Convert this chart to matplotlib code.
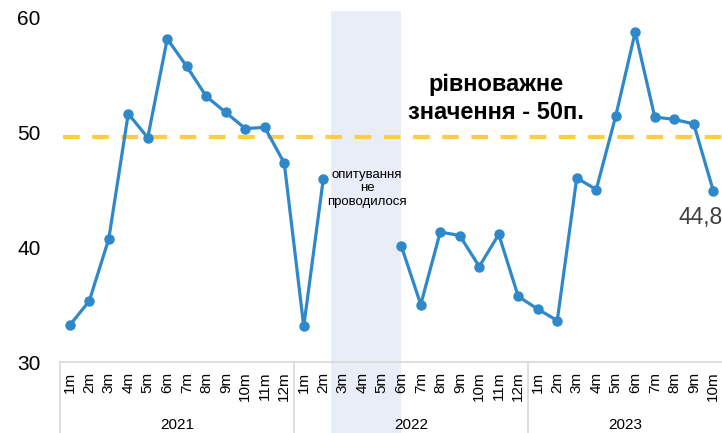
import matplotlib.pyplot as plt
from matplotlib.patches import Rectangle
from matplotlib.transforms import blended_transform_factory
import numpy as np

plt.rcParams['font.family'] = ['Liberation Sans', 'DejaVu Sans']

# --- data -------------------------------------------------------------
years = ["2021", "2022", "2023"]
months_per_year = [12, 12, 10]
month_labels = [f"{m}m" for n in months_per_year for m in range(1, n + 1)]

values = [
    33.2, 35.3, 40.7, 51.6, 49.5, 58.1, 55.7, 53.1, 51.7, 50.3, 50.4, 47.3,   # 2021
    33.1, 45.9, None, None, None, 40.1, 35.0, 41.3, 41.0, 38.3, 41.1, 35.7,   # 2022
    34.6, 33.6, 46.0, 45.0, 51.4, 58.7, 51.3, 51.1, 50.7, 44.9,               # 2023
]
last_label = "44,8"
equilibrium = 49.6
no_survey = (13.4, 17.0)   # shaded span (category positions)

# --- figure -----------------------------------------------------------
W, H = 722, 433
fig = plt.figure(figsize=(W / 100, H / 100), dpi=100)
ax = fig.add_axes([60 / W, (H - 362) / H, 663 / W, 350.75 / H])

x = np.arange(len(values))
y = np.array([np.nan if v is None else v for v in values])

trans = blended_transform_factory(ax.transData, ax.transAxes)
ax.add_patch(Rectangle((no_survey[0], -0.21), no_survey[1] - no_survey[0], 1.21,
                       transform=trans, facecolor="#E9EDF7", edgecolor="none",
                       clip_on=False, zorder=0))

ax.plot([-0.35, len(values) - 0.5], [equilibrium, equilibrium], color="#FFCD44",
        lw=3, dashes=(4, 3), zorder=2)
ax.plot(x, y, color="#2E88CA", lw=2.3, marker="o", ms=6.5, zorder=3)

ax.set_xlim(-0.5, len(values) - 0.5)
ax.set_ylim(30, 60.5)
ax.set_yticks([30, 40, 50, 60])
ax.tick_params(axis="y", length=0, labelsize=15, pad=14)
ax.set_xticks(x)
ax.set_xticklabels(month_labels, rotation=90, fontsize=11)
ax.tick_params(axis="x", length=0, pad=7)

for side in ["top", "right", "left"]:
    ax.spines[side].set_visible(False)
ax.spines["bottom"].set_color("#D9D9D9")
ax.spines["bottom"].set_linewidth(1.2)

# year group separators and labels
start = 0
bounds = [-0.5]
for yr, n in zip(years, months_per_year):
    ax.text(start + (n - 1) / 2, -0.18, yr, transform=trans, ha="center",
            va="center", fontsize=11)
    start += n
    bounds.append(start - 0.5)
for b in bounds[:-1]:
    ax.plot([b, b], [0, -0.21], transform=trans, color="#D9D9D9", lw=1.2,
            clip_on=False)

ax.text(15.25, 45.1, "опитування\nне\nпроводилося", ha="center", va="center",
        fontsize=9.5, linespacing=1.15)
ax.text(21.85, 52.9, "рівноважне\nзначення - 50п.", ha="center", va="center",
        fontsize=17, fontweight="bold", linespacing=1.3)
ax.text(31.2, y[-1] - 2.3, last_label, ha="left", va="center",
        fontsize=16.5, color="#404040")

fig.savefig("out.png", dpi=100)
